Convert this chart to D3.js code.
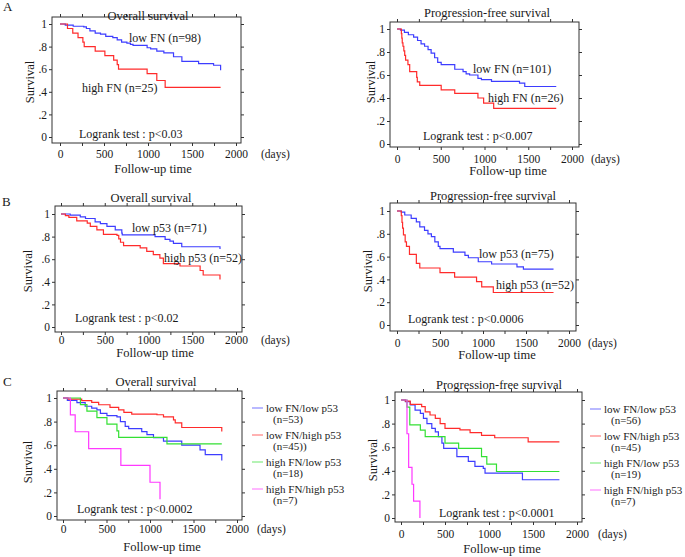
<!DOCTYPE html>
<html>
<head>
<meta charset="utf-8">
<script src="https://cdn.jsdelivr.net/npm/d3@7"></script>
<style>
body { margin: 0; background: #fff; }
text { font-family: "Liberation Serif", "DejaVu Serif", serif; fill: #1a1a1a; }
</style>
</head>
<body>
<script>
// Kaplan-Meier steps: [days, survival]
var osLowFN   = [[0,1],[60,0.99],[150,0.98],[270,0.975],[300,0.96],[340,0.94],[400,0.92],[460,0.91],[520,0.89],[600,0.88],[650,0.86],[700,0.84],[760,0.83],[800,0.82],[830,0.81],[990,0.79],[1030,0.78],[1100,0.76],[1180,0.745],[1290,0.71],[1385,0.67],[1575,0.65],[1745,0.635],[1825,0.59]];
var osHighFN  = [[0,1],[85,0.96],[145,0.92],[205,0.88],[260,0.84],[275,0.80],[400,0.76],[510,0.72],[610,0.68],[650,0.64],[665,0.60],[990,0.56],[1100,0.50],[1195,0.44],[1825,0.44]];
var pfsLowFN  = [[0,1],[40,0.99],[85,0.97],[130,0.95],[190,0.93],[235,0.90],[275,0.87],[315,0.85],[355,0.82],[390,0.79],[430,0.75],[465,0.71],[505,0.69],[660,0.65],[755,0.63],[790,0.61],[830,0.60],[925,0.57],[965,0.56],[1080,0.545],[1400,0.53],[1460,0.50],[1820,0.50]];
var pfsHighFN = [[0,1],[50,0.96],[55,0.92],[60,0.88],[68,0.85],[78,0.81],[88,0.77],[98,0.73],[125,0.69],[145,0.63],[225,0.58],[232,0.54],[260,0.51],[505,0.47],[660,0.44],[925,0.40],[990,0.355],[1105,0.31],[1820,0.31]];

var osLowP53   = [[0,1],[105,0.99],[220,0.975],[280,0.96],[390,0.93],[450,0.915],[525,0.89],[620,0.86],[695,0.83],[700,0.815],[1075,0.80],[1190,0.775],[1245,0.76],[1285,0.74],[1380,0.71],[1817,0.69]];
var osHighP53  = [[0,1],[50,0.985],[90,0.97],[180,0.94],[300,0.92],[335,0.89],[410,0.86],[485,0.82],[640,0.81],[660,0.78],[680,0.75],[715,0.72],[905,0.70],[980,0.67],[1055,0.64],[1130,0.61],[1170,0.56],[1360,0.54],[1590,0.50],[1625,0.46],[1817,0.42]];
var pfsLowP53  = [[0,1],[50,0.99],[90,0.965],[165,0.935],[225,0.905],[265,0.86],[320,0.83],[360,0.80],[400,0.775],[440,0.73],[480,0.69],[500,0.67],[655,0.64],[790,0.61],[830,0.59],[945,0.555],[1100,0.535],[1395,0.51],[1470,0.49],[1820,0.49]];
var pfsHighP53 = [[0,1],[50,0.96],[58,0.90],[65,0.85],[75,0.79],[95,0.73],[110,0.69],[145,0.62],[225,0.54],[265,0.50],[500,0.46],[670,0.42],[925,0.38],[985,0.335],[1120,0.285],[1820,0.285]];

var osLL = [[0,1],[50,0.98],[160,0.96],[255,0.93],[330,0.915],[390,0.90],[430,0.87],[505,0.85],[620,0.84],[660,0.80],[715,0.76],[755,0.74],[905,0.715],[965,0.69],[1040,0.665],[1155,0.635],[1365,0.60],[1575,0.56],[1635,0.52],[1825,0.47]];
var osLH = [[0,1],[60,0.99],[215,0.977],[330,0.963],[410,0.943],[540,0.92],[640,0.90],[700,0.878],[790,0.864],[1080,0.858],[1155,0.84],[1270,0.815],[1290,0.79],[1365,0.75],[1825,0.716]];
var osHL = [[0,1],[200,0.944],[275,0.889],[390,0.833],[505,0.778],[620,0.722],[640,0.667],[1195,0.611],[1825,0.611]];
var osHH = [[0,1],[85,0.857],[140,0.714],[295,0.571],[665,0.429],[1000,0.286],[1115,0.143]];

var pfsLL = [[0,1],[50,0.986],[105,0.958],[160,0.915],[220,0.887],[255,0.845],[295,0.80],[350,0.76],[390,0.73],[425,0.69],[465,0.634],[485,0.59],[635,0.52],[765,0.48],[840,0.437],[935,0.42],[955,0.38],[1380,0.324],[1800,0.324]];
var pfsLH = [[0,1],[50,0.99],[105,0.963],[235,0.944],[275,0.90],[330,0.873],[390,0.845],[445,0.80],[500,0.76],[670,0.746],[785,0.724],[915,0.70],[1065,0.68],[1445,0.645],[1800,0.645]];
var pfsHL = [[0,1],[68,0.94],[100,0.79],[220,0.745],[275,0.69],[500,0.634],[655,0.59],[915,0.52],[975,0.456],[1085,0.394],[1800,0.394]];
var pfsHH = [[0,1],[68,0.714],[87,0.429],[125,0.286],[143,0.143],[215,0]];

var xTicks = [0,250,500,750,1000,1250,1500,1750,2000];
var yTicks = [0,0.2,0.4,0.6,0.8,1];
var yTickLabels = ["0",".2",".4",".6",".8","1"];

var groupNames = ["low FN/low p53","low FN/high p53","high FN/low p53","high FN/high p53"];
var osGroupN  = ["(n=53)","(n=45))","(n=18)","(n=7)"];
var pfsGroupN = ["(n=56)","(n=45)","(n=19)","(n=7)"];

var blue = "#3d3dff", red = "#ff2b2b", green = "#33e033", magenta = "#ff38ff";
var groupColours = [blue, red, green, magenta];

// layout of the six panels (pixels)
var panels = [
  {letter:"A", lx:3, ly:11, title:"Overall survival", tx:148, ty:20,
   frame:[52,17,241,143], xr:[60,236], yr:[137,24], sx:30, sy:82, gap:15, fx:153, fy:173, dx:261,
   curves:[[osLowFN,blue],[osHighFN,red]],
   labels:[["low FN (n=98)",784,0.841],["high FN (n=25)",250,0.398]],
   logrank:["Logrank test : p<0.03",216,-0.009]},
  {title:"Progression-free survival", tx:487, ty:17,
   frame:[390,22,579,147], xr:[397,572], yr:[144,29], sx:371, sy:82, gap:16, fx:508, fy:175, dx:591,
   curves:[[pfsLowFN,blue],[pfsHighFN,red]],
   labels:[["low FN (n=101)",869,0.617],["high FN (n=26)",1040,0.365]],
   logrank:["Logrank test : p<0.007",297,0.035]},
  {letter:"B", lx:2, ly:206, title:"Overall survival", tx:151, ty:202,
   frame:[55,206,242,332], xr:[61,236], yr:[327,214], sx:28, sy:271, gap:12, fx:155, fy:357, dx:261,
   curves:[[osLowP53,blue],[osHighP53,red]],
   labels:[["low p53 (n=71)",811,0.841],["high p53 (n=52)",1177,0.575]],
   logrank:["Logrank test : p<0.02",160,0.044]},
  {title:"Progression-free survival", tx:493, ty:200,
   frame:[390,203,576,331], xr:[397,569], yr:[325,211], sx:368, sy:271, gap:16, fx:497, fy:359, dx:588,
   curves:[[pfsLowP53,blue],[pfsHighP53,red]],
   labels:[["low p53 (n=75)",953,0.588],["high p53 (n=52)",1151,0.316]],
   logrank:["Logrank test : p<0.0006",128,0.018]},
  {letter:"C", lx:3, ly:386, title:"Overall survival", tx:156, ty:386,
   frame:[57,391,242,520], xr:[63,237], yr:[516,398], sx:28, sy:462, gap:13, fx:162, fy:551, dx:257,
   curves:[[osLL,blue],[osLH,red],[osHL,green],[osHH,magenta]],
   labels:[], logrank:["Logrank test : p<0.0002",161,0.025],
   legend:{x:252, y:408, n:osGroupN}},
  {title:"Progression-free survival", tx:499, ty:389,
   frame:[395,392,582,522], xr:[401,577], yr:[518,400], sx:373, sy:460, gap:16, fx:502, fy:553, dx:598,
   curves:[[pfsLL,blue],[pfsLH,red],[pfsHL,green],[pfsHH,magenta]],
   labels:[], logrank:["Logrank test : p<0.0001",432,0.008],
   legend:{x:590, y:409, n:pfsGroupN}}
];

var svg = d3.select("body").append("svg")
    .attr("width", 685)
    .attr("height", 557);

panels.forEach(function(p) {
    var g = svg.append("g");
    var f = p.frame;
    var x = d3.scaleLinear().domain([0, 2000]).range(p.xr);
    var y = d3.scaleLinear().domain([0, 1]).range(p.yr);

    // frame
    g.append("rect")
        .attr("x", f[0]).attr("y", f[1])
        .attr("width", f[2] - f[0]).attr("height", f[3] - f[1])
        .attr("fill", "none").attr("stroke", "#333").attr("stroke-width", 1);

    // ticks on all four sides
    g.append("g").attr("transform", "translate(" + f[0] + ",0)")
        .call(d3.axisLeft(y).tickValues(yTicks).tickSize(3).tickPadding(2)
            .tickFormat(function(d, i) { return yTickLabels[i]; }));
    g.append("g").attr("transform", "translate(" + f[2] + ",0)")
        .call(d3.axisRight(y).tickValues(yTicks).tickSize(3).tickFormat(""));
    g.append("g").attr("transform", "translate(0," + f[1] + ")")
        .call(d3.axisTop(x).tickValues(xTicks).tickSize(3).tickFormat(""));
    g.append("g").attr("transform", "translate(0," + f[3] + ")")
        .call(d3.axisBottom(x).tickValues(xTicks).tickSize(3).tickPadding(p.gap - 11)
            .tickFormat(function(d) { return d % 500 === 0 ? d : ""; }));
    g.selectAll(".domain").remove();
    g.selectAll(".tick line").attr("stroke", "#333");
    g.selectAll(".tick text").style("font-family", "Liberation Serif").style("font-size", "11.5px").attr("fill", "#1a1a1a");

    // curves
    var line = d3.line()
        .x(function(d) { return x(d[0]); })
        .y(function(d) { return y(d[1]); })
        .curve(d3.curveStepAfter);
    p.curves.forEach(function(c) {
        g.append("path")
            .datum(c[0])
            .attr("d", line)
            .attr("fill", "none")
            .attr("stroke", c[1])
            .attr("stroke-width", 1.2);
    });

    // texts
    if (p.letter) g.append("text").attr("x", p.lx).attr("y", p.ly).style("font-size", "13px").text(p.letter);
    g.append("text").attr("x", p.tx).attr("y", p.ty).attr("text-anchor", "middle").style("font-size", "12.5px").text(p.title);
    g.append("text").attr("transform", "translate(" + p.sx + "," + p.sy + ") rotate(-90)")
        .attr("text-anchor", "middle").attr("dy", "0.35em").style("font-size", "12.5px").text("Survival");
    g.append("text").attr("x", p.dx).attr("y", f[3] + p.gap).style("font-size", "11.5px").text("(days)");
    g.append("text").attr("x", p.fx).attr("y", p.fy).attr("text-anchor", "middle").style("font-size", "12.5px").text("Follow-up time");

    p.labels.forEach(function(l) {
        g.append("text").attr("x", x(l[1])).attr("y", y(l[2])).style("font-size", "12px").text(l[0]);
    });
    g.append("text").attr("x", x(p.logrank[1])).attr("y", y(p.logrank[2])).style("font-size", "12px").text(p.logrank[0]);

    // legend
    if (p.legend) {
        var lg = g.append("g").attr("transform", "translate(" + p.legend.x + "," + p.legend.y + ")");
        groupNames.forEach(function(name, i) {
            var yy = i * 27;
            lg.append("line").attr("x1", 0).attr("x2", 11).attr("y1", yy).attr("y2", yy)
                .attr("stroke", groupColours[i]).attr("stroke-opacity", 0.6).attr("stroke-width", 1.2);
            lg.append("text").attr("x", 14).attr("y", yy + 4).style("font-size", "11px").text(name);
            lg.append("text").attr("x", 21).attr("y", yy + 15).style("font-size", "11px").text(p.legend.n[i]);
        });
    }
});
</script>
</body>
</html>
